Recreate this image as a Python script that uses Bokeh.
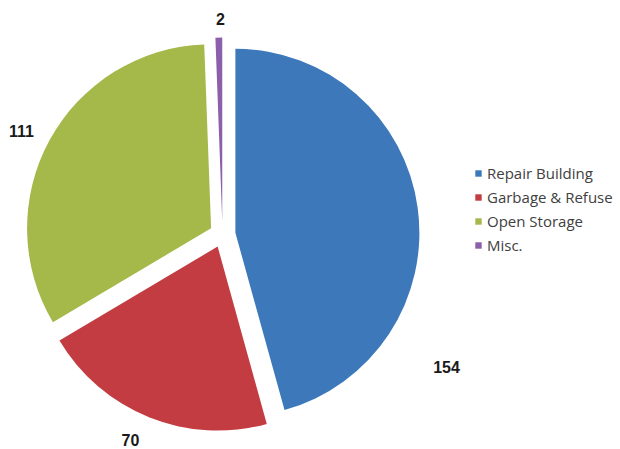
import numpy as np
from bokeh.plotting import figure
from bokeh.models import ColumnDataSource, Legend, LegendItem
from bokeh.core.properties import value
from bokeh.embed import file_html
from bokeh.resources import INLINE

# ---- data ----
categories = ["Repair Building", "Garbage & Refuse", "Open Storage", "Misc."]
counts = [154, 70, 111, 2]
colors = ["#3d79ba", "#c23c42", "#a5b94b", "#8b5fa9"]

# ---- layout constants (label anchor offsets from pie centre, px) ----
label_dx = [224, -92, -201, -2]
label_dy = [-132, -205, 104, 216]

W, H = 620, 449
cx, cy = 222, 215
R = 184
explode = 13

vals = np.array(counts, dtype=float)
frac = vals / vals.sum()
cum_end = np.cumsum(frac) * 2 * np.pi
cum_start = cum_end - frac * 2 * np.pi
start = np.pi / 2 - cum_end
end = np.pi / 2 - cum_start
mid = (start + end) / 2
xs = cx + explode * np.cos(mid)
ys = cy + explode * np.sin(mid)

src = ColumnDataSource(dict(x=xs, y=ys, start=start, end=end, color=colors, cat=categories))

p = figure(width=W, height=H, x_range=(0, W), y_range=(0, H),
           output_backend="svg", toolbar_location=None, min_border=0,
           x_axis_location=None, y_axis_location=None)
p.grid.visible = False
p.outline_line_color = None
p.background_fill_color = "white"

r = p.wedge(x="x", y="y", radius=R, start_angle="start", end_angle="end",
            fill_color="color", line_color=None, source=src)

lsrc = ColumnDataSource(dict(x=[cx + d for d in label_dx], y=[cy + d for d in label_dy],
                             t=[str(c) for c in counts]))
p.text(x="x", y="y", text="t", source=lsrc, text_align="center", text_baseline="middle",
       text_font=value("Liberation Sans"), text_font_style="bold", text_font_size="16px",
       text_color="#1a1a1a")

items = [LegendItem(label=c, renderers=[r], index=i) for i, c in enumerate(categories)]
legend = Legend(items=items, location=(474, 194), padding=0, margin=0, spacing=4,
                glyph_width=8, glyph_height=8, label_standoff=5, label_height=20,
                label_text_font="Open Sans", label_text_font_size="15px",
                label_text_color="#404040", border_line_alpha=0, background_fill_alpha=0)
p.add_layout(legend)

open("out.html", "w").write(file_html(p, INLINE))
